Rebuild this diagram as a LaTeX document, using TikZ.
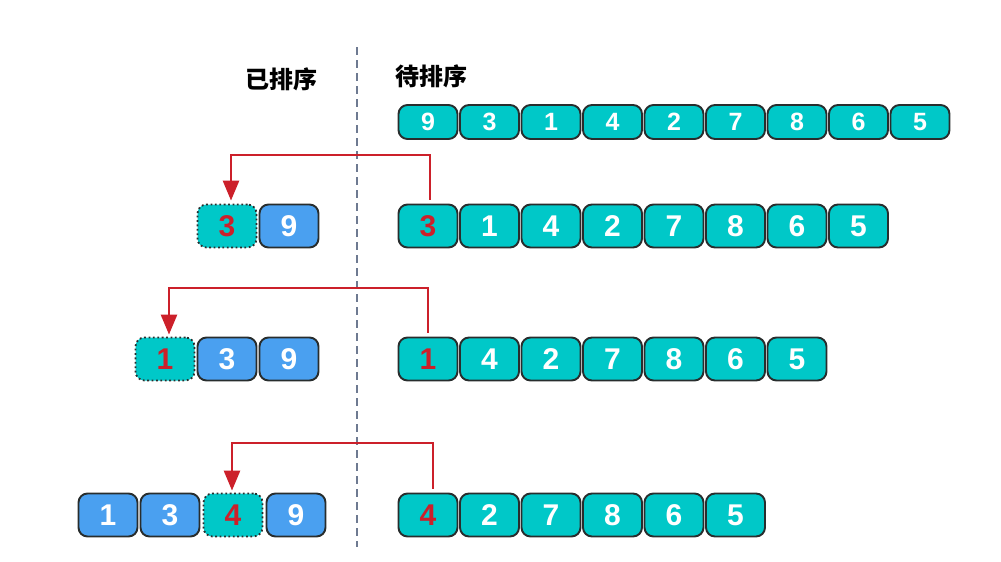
\documentclass[tikz,border=0pt]{standalone}
\usepackage{fontspec}
\newfontfamily\digitfont{Liberation Sans}
\newfontfamily\cjk{Noto Sans CJK SC}
\usetikzlibrary{arrows.meta}
\definecolor{tealc}{RGB}{0,200,200}
\definecolor{bluec}{RGB}{74,160,240}
\definecolor{redc}{RGB}{204,32,42}
\definecolor{edgec}{RGB}{40,45,45}
\definecolor{sepc}{RGB}{110,122,145}
\tikzset{
  cell/.style={rounded corners=9pt, draw=edgec, line width=1.9pt, minimum width=59pt, minimum height=43pt, inner sep=0pt, font=\digitfont\bfseries\fontsize{30}{32}\selectfont, text=white},
  topcell/.style={cell, minimum height=34pt, font=\digitfont\bfseries\fontsize{25}{27}\selectfont},
  tc/.style={cell, fill=tealc},
  bc/.style={cell, fill=bluec},
  hot/.style={text=redc},
  newc/.style={tc, hot, line width=1.8pt, dash pattern=on 1.8pt off 2.6pt},
  move/.style={draw=redc, line width=2.6pt, -{Triangle[length=20pt,width=16pt]}},
  head/.style={font=\cjk\bfseries\fontsize{24}{26}\selectfont, text=black, inner sep=0pt}
}
\begin{document}
\begin{tikzpicture}[x=1pt,y=-1pt]
\useasboundingbox (0,0) rectangle (1001,562);
% separator
\coordinate (s1) at (357,47);
\coordinate (s2) at (357,547);
\draw[sepc, line width=1.5pt, dash pattern=on 8pt off 5pt] (s1) -- (s2);
% headers
\node[head] (h1) at (281,79) {已排序};
\node[head] (h2) at (431,76) {待排序};
% row 1
\foreach \v [count=\i from 0] in {9,3,1,4,2,7,8,6,5}{
  \node[topcell, fill=tealc] (r1n\i) at (428+61.5*\i,122) {\v};
}
% row 2
\node[tc, hot] (r2hot) at (428,226) {3};
\foreach \v [count=\i from 1] in {1,4,2,7,8,6,5}{
  \node[tc] (r2n\i) at (428+61.5*\i,226) {\v};
}
\node[newc] (l2a) at (227,226) {3};
\node[bc] (l2b) at (289,226) {9};
% row 3
\node[tc, hot] (r3hot) at (428,359) {1};
\foreach \v [count=\i from 1] in {4,2,7,8,6,5}{
  \node[tc] (r3n\i) at (428+61.5*\i,359) {\v};
}
\node[newc] (l3a) at (165,359) {1};
\node[bc] (l3b) at (227,359) {3};
\node[bc] (l3c) at (289,359) {9};
% row 4
\node[tc, hot] (r4hot) at (428,515) {4};
\foreach \v [count=\i from 1] in {2,7,8,6,5}{
  \node[tc] (r4n\i) at (428+61.5*\i,515) {\v};
}
\node[bc] (l4a) at (108,515) {1};
\node[bc] (l4b) at (170,515) {3};
\node[newc] (l4c) at (233,515) {4};
\node[bc] (l4d) at (296,515) {9};
% arrows
\draw[move] ([xshift=2pt,yshift=4pt]r2hot.north) |- (231,155) -- ([xshift=4pt,yshift=3pt]l2a.north);
\draw[move] ([yshift=4pt]r3hot.north) |- (169,288) -- ([xshift=4pt,yshift=2pt]l3a.north);
\draw[move] ([xshift=5pt,yshift=4pt]r4hot.north) |- (232,443) -- ([xshift=-1pt,yshift=2pt]l4c.north);
\end{tikzpicture}
\end{document}
